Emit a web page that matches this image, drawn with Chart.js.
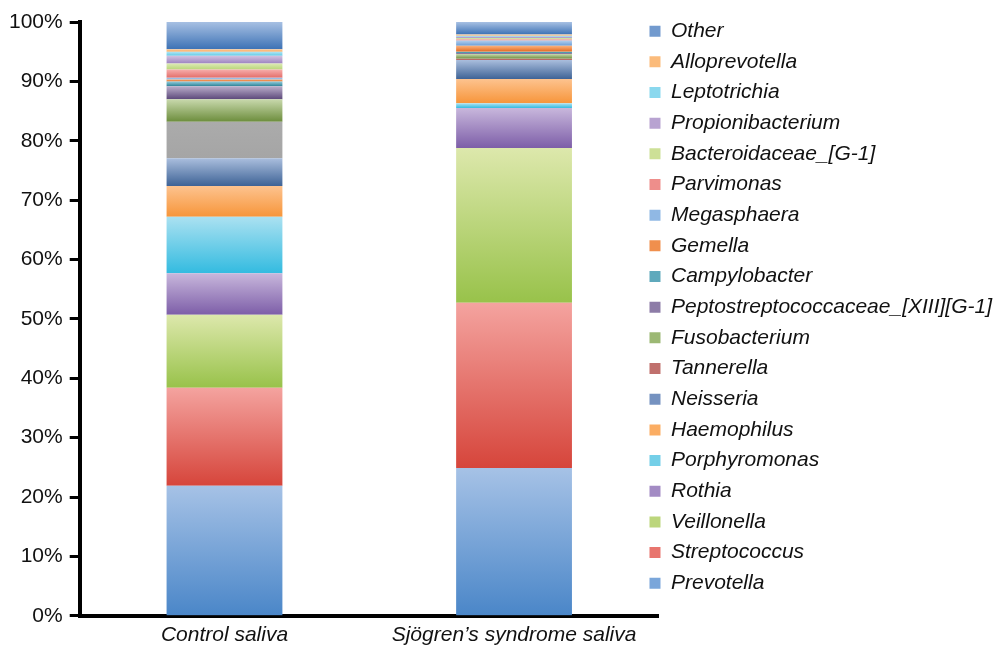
<!DOCTYPE html>
<html>
<head>
<meta charset="utf-8">
<script src="https://cdn.jsdelivr.net/npm/chart.js@4.4.1/dist/chart.umd.min.js"></script>
<style>
  html, body { margin: 0; padding: 0; background: #fff; }
  #wrap { width: 997px; height: 649px; }
</style>
</head>
<body>
<div id="wrap"><canvas id="chart" width="997" height="649"></canvas></div>
<script>
// categories and taxa, stacked bottom -> top
const categories = ['Control saliva', 'Sjögren’s syndrome saliva'];
const taxa = [
  'Prevotella', 'Streptococcus', 'Veillonella', 'Rothia', 'Porphyromonas',
  'Haemophilus', 'Neisseria', 'Tannerella', 'Fusobacterium',
  'Peptostreptococcaceae_[XIII][G-1]', 'Campylobacter', 'Gemella',
  'Megasphaera', 'Parvimonas', 'Bacteroidaceae_[G-1]', 'Propionibacterium',
  'Leptotrichia', 'Alloprevotella', 'Other'
];
// relative abundance (%)
const controlSaliva = [21.9, 16.5, 12.3, 7.0, 9.5, 5.2, 4.65, 6.15, 3.8, 2.2, 0.8, 0.3, 0.3, 1.4, 1.0, 1.3, 0.7, 0.4, 4.6];
const sjogrenSaliva = [24.9, 27.8, 26.1, 6.7, 0.8, 4.1, 3.2, 0.2, 0.8, 0.2, 0.2, 1.0, 0.9, 0.2, 0.2, 0.2, 0.2, 0.2, 2.1];
const yTickValues = [0, 10, 20, 30, 40, 50, 60, 70, 80, 90, 100];

// gradient colours per taxon: [top, mid, bottom]
const shades = [
  ['#a6c2e6', '#7aa6da', '#4a86c8'],
  ['#f4a39f', '#e8756e', '#d6453b'],
  ['#dde8ac', '#bcd67c', '#98c24a'],
  ['#c8b7dc', '#a38bc4', '#7d5ea8'],
  ['#abe1f1', '#74cfe8', '#33bbe0'],
  ['#fdc38f', '#fbad63', '#f7953a'],
  ['#aabedd', '#7592c0', '#3e6396'],
  ['#d8a09e', '#c0706d', '#a3413d'],
  ['#c9d9ad', '#9cb874', '#6c8d3c'],
  ['#bcb0cc', '#8d7ca7', '#5d497b'],
  ['#96cfde', '#5fa9bc', '#2e8397'],
  ['#fbb37e', '#f08f4d', '#e4691e'],
  ['#b6d1ef', '#90b8e4', '#699ed8'],
  ['#f7aeac', '#ee8e8b', '#e36d69'],
  ['#dde9b3', '#cde097', '#b8d67a'],
  ['#d2c3e1', '#b8a3d1', '#9c82c0'],
  ['#b4e5f3', '#8ad8ee', '#5ecbe6'],
  ['#fdcd9d', '#fbbb7b', '#f9a85a'],
  ['#a7c0e3', '#729ace', '#3d72b5']
];
// the Tannerella block of the control bar is printed grey in the figure
const barOverride = { '7-0': ['#ababab', '#a8a8a8', '#a5a5a5'] };

function segmentFill(ctx) {
  const key = ctx.datasetIndex + '-' + ctx.dataIndex;
  const c = barOverride[key] || shades[ctx.datasetIndex];
  if (ctx.type !== 'data') return c[1];
  const chart = ctx.chart;
  const y = chart.scales.y;
  if (!y || !chart.chartArea) return c[1];
  let start = 0;
  for (let i = 0; i < ctx.datasetIndex; i++) start += chart.data.datasets[i].data[ctx.dataIndex];
  const end = start + ctx.dataset.data[ctx.dataIndex];
  const top = y.getPixelForValue(end);
  const bottom = y.getPixelForValue(start);
  if (!(bottom - top > 0.5)) return c[1];
  const g = chart.ctx.createLinearGradient(0, top, 0, bottom);
  g.addColorStop(0, c[0]);
  g.addColorStop(1, c[2]);
  return g;
}

const datasets = taxa.map((name, i) => ({
  label: name,
  data: [controlSaliva[i], sjogrenSaliva[i]],
  backgroundColor: segmentFill,
  borderWidth: 0,
  barPercentage: 0.4,
  categoryPercentage: 1
}));

// the legend sits a little inside the plot's right end, as in the figure
const legendShift = {
  id: 'legendShift',
  afterLayout(chart) {
    const lg = chart.legend;
    if (!lg) return;
    const dx = lg.right - chart.width - 5;
    lg.left -= dx;
    lg.right -= dx;
  }
};

const font = 'Liberation Sans, Arial, Helvetica, sans-serif';

new Chart(document.getElementById('chart').getContext('2d'), {
  type: 'bar',
  data: { labels: categories, datasets: datasets },
  plugins: [legendShift],
  options: {
    responsive: false,
    animation: false,
    layout: { padding: { top: 11, right: -24, left: 2, bottom: -6 } },
    scales: {
      x: {
        stacked: true,
        grid: { display: false, drawTicks: false },
        border: { display: true, color: '#000', width: 4 },
        ticks: { color: '#111', padding: 7, font: { family: font, size: 21, style: 'italic' } }
      },
      y: {
        stacked: true,
        min: 0,
        max: 100,
        afterBuildTicks(scale) { scale.ticks = yTickValues.map(v => ({ value: v })); },
        afterFit(scale) { scale.paddingTop = 22; },
        grid: { drawOnChartArea: false, drawTicks: true, tickLength: 10, tickWidth: 3, tickColor: '#000' },
        border: { display: true, color: '#000', width: 4 },
        ticks: {
          color: '#111',
          padding: 7,
          font: { family: font, size: 21 },
          callback: v => v + '%'
        }
      }
    },
    plugins: {
      tooltip: { enabled: false },
      legend: {
        position: 'right',
        align: 'start',
        reverse: true,
        maxWidth: 420,
        labels: {
          boxWidth: 11,
          boxHeight: 11,
          padding: 9.67,
          color: '#111',
          font: { family: font, size: 21, style: 'italic' },
          generateLabels(chart) {
            const items = Chart.defaults.plugins.legend.labels.generateLabels(chart);
            items.forEach(it => { it.fillStyle = shades[it.datasetIndex][1]; });
            return items;
          }
        }
      }
    }
  }
});
</script>
</body>
</html>
